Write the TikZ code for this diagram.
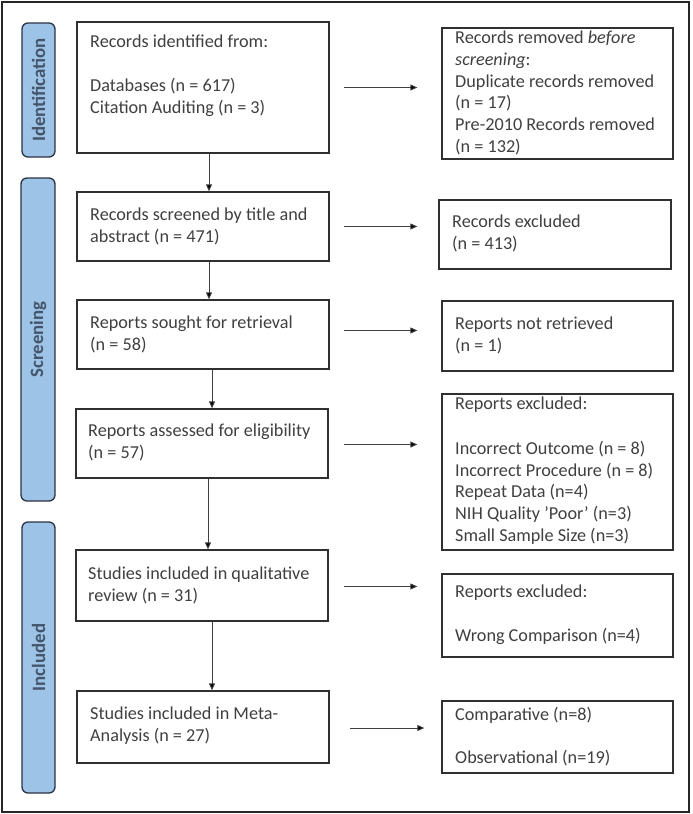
\documentclass[tikz,border=0pt]{standalone}
\usepackage{fontspec}
\setmainfont{Carlito}
\usetikzlibrary{fit,arrows.meta}
\definecolor{pillfill}{HTML}{9DC3E6}
\definecolor{pilldraw}{HTML}{2B3442}
\definecolor{pilltext}{HTML}{44546A}
\definecolor{boxtext}{HTML}{404040}
\definecolor{boxdraw}{HTML}{303030}
\begin{document}
\begin{tikzpicture}[x=1pt,y=-1pt,
  box/.style={draw=boxdraw, line width=1.3pt, inner sep=0pt, fill=white},
  pill/.style={draw=pilldraw, fill=pillfill, line width=1.3pt, rounded corners=6pt, inner sep=0pt},
  pilltxt/.style={text=pilltext, font=\fontsize{18.8}{22}\selectfont\bfseries, rotate=90, inner sep=0pt},
  txt/.style={text=boxtext, font=\fontsize{18.2}{21.8}\selectfont, align=left, inner sep=0pt, anchor=north west,
    execute at begin node={\strut}},
  arr/.style={draw=black!75, line width=0.9pt, -{Stealth[length=7pt,width=6pt,inset=0pt,fill=black]}}
]
\useasboundingbox (0,0) rectangle (693,814);
\draw[line width=1.5pt, draw=black!85] (2,2) rectangle (689,812);

% phase pills
\node[pill, fit={(22,23) (55,157)}] (p1) {};
\node[pilltxt] (pt1) at (p1.center) {Identification};
\node[pill, fit={(21,178) (55,501)}] (p2) {};
\node[pilltxt] (pt2) at (p2.center) {Screening};
\node[pill, fit={(22,522) (55,793)}] (p3) {};
\node[pilltxt] (pt3) at (p3.center) {Included};

% left boxes
\node[box, fit={(77,22) (329,153)}] (b1) {};
\node[box, fit={(77,192) (329,261)}] (b2) {};
\node[box, fit={(77,300) (329,369)}] (b3) {};
\node[box, fit={(76,409) (328,478)}] (b4) {};
\node[box, fit={(76,550) (328,621)}] (b5) {};
\node[box, fit={(77,691) (329,763)}] (b6) {};

% right boxes
\node[box, fit={(442,28) (673,159)}] (r1) {};
\node[box, fit={(439,200) (671,269)}] (r2) {};
\node[box, fit={(442,301) (673,371)}] (r3) {};
\node[box, fit={(442,394) (673,550)}] (r4) {};
\node[box, fit={(442,574) (673,657)}] (r5) {};
\node[box, fit={(442,701) (673,773)}] (r6) {};

% texts (y = first baseline - strut height)
\node[txt] (tb1) at (90,34.7) {Records identified from:\\[22pt]Databases (n = 617)\\Citation Auditing (n = 3)};
\node[txt] (tb2) at (90,207.7) {Records screened by title and\\abstract (n = 471)};
\node[txt] (tb3) at (90,315.7) {Reports sought for retrieval\\(n = 58)};
\node[txt] (tb4) at (88,423.7) {Reports assessed for eligibility\\(n = 57)};
\node[txt] (tb5) at (88,566.7) {Studies included in qualitative\\review (n = 31)};
\node[txt] (tb6) at (90,706.7) {Studies included in Meta-\\Analysis (n = 27)};

\node[txt] (tr1) at (455,30.7) {Records removed \textit{before}\\\textit{screening}:\\Duplicate records removed\\(n = 17)\\Pre-2010 Records removed\\(n = 132)};
\node[txt] (tr2) at (452,214.7) {Records excluded\\(n = 413)};
\node[txt] (tr3) at (455,316.7) {Reports not retrieved\\(n = 1)};
\node[txt] (tr4) at (455,396.7) {Reports excluded:\\[23pt]Incorrect Outcome (n = 8)\\Incorrect Procedure (n = 8)\\Repeat Data (n=4)\\NIH Quality ’Poor’ (n=3)\\Small Sample Size (n=3)};
\node[txt] (tr5) at (455,584.7) {Reports excluded:\\[21.8pt]Wrong Comparison (n=4)};
\node[txt] (tr6) at (455,706.7) {Comparative (n=8)\\[21.8pt]Observational (n=19)};

% vertical arrows
\draw[arr] ([xshift=6pt]b1.south) -- ([xshift=6pt]b1.south |- b2.north);
\draw[arr] ([xshift=6pt]b2.south) -- ([xshift=6pt]b2.south |- b3.north);
\draw[arr] ([xshift=9pt]b3.south) -- ([xshift=9pt]b3.south |- b4.north);
\draw[arr] ([xshift=6pt]b4.south) -- ([xshift=6pt]b4.south |- b5.north);
\draw[arr] ([xshift=10pt]b5.south) -- ([xshift=10pt]b5.south |- b6.north);

% horizontal arrows
\draw[arr] ([xshift=14pt]b1.east) -- ([xshift=-24pt]r1.west |- b1.east);
\draw[arr] ([xshift=14pt]b2.east) -- ([xshift=-21pt]r2.west |- b2.east);
\draw[arr] ([xshift=14pt,yshift=4pt]b3.east) -- ([xshift=-24pt,yshift=4pt]r3.west |- b3.east);
\draw[arr] ([xshift=15pt,yshift=-1pt]b4.east) -- ([xshift=-24pt,yshift=-1pt]r4.west |- b4.east);
\draw[arr] ([xshift=15pt,yshift=-1pt]b5.east) -- ([xshift=-24pt,yshift=-1pt]r5.west |- b5.east);
\draw[arr] ([xshift=20pt,yshift=-1pt]b6.east) -- ([xshift=-17pt,yshift=-1pt]r6.west |- b6.east);
\end{tikzpicture}
\end{document}
